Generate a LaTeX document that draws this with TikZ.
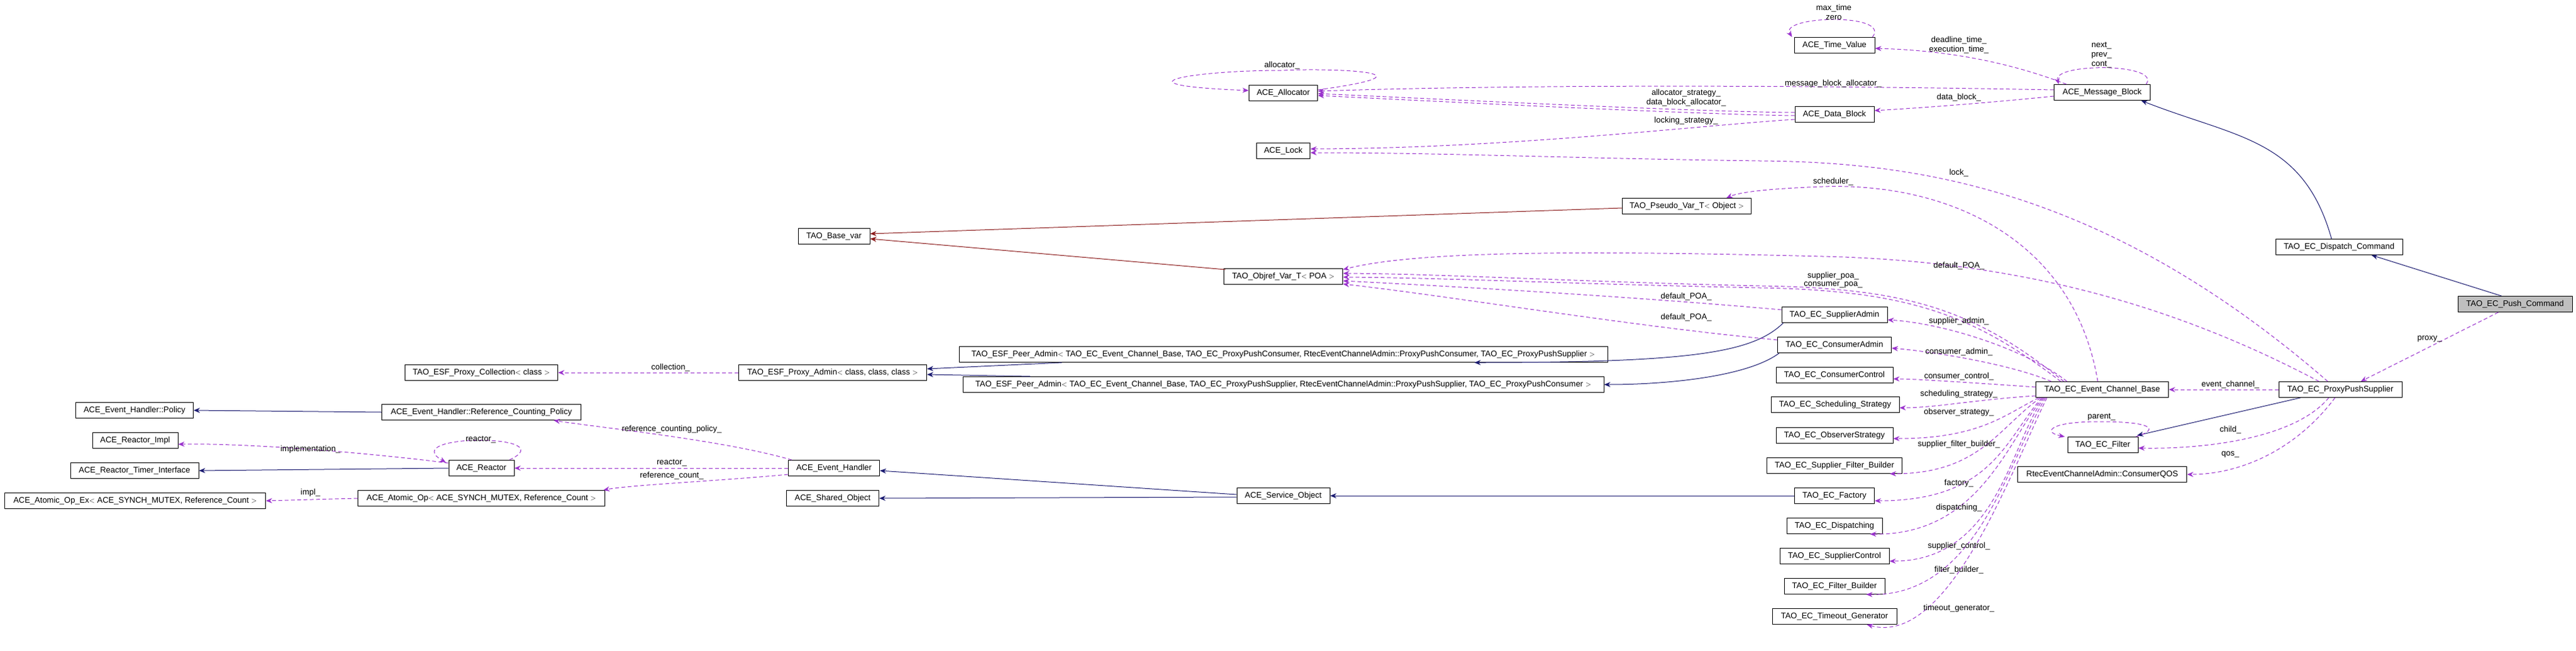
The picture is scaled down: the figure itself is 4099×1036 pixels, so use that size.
\documentclass[tikz,border=0pt]{standalone}
\usepackage{fontspec}
\setmainfont{Liberation Sans}
\usetikzlibrary{arrows.meta,calc}
\definecolor{inh}{HTML}{191970}
\definecolor{usg}{HTML}{9A32CD}
\definecolor{tpl}{HTML}{8B1A1A}
\begin{document}
\begin{tikzpicture}[x=1pt,y=-1pt,
  cls/.style={draw=black,line width=1pt,minimum height=25pt,inner sep=2pt,font=\fontsize{13}{15}\selectfont,fill=white},
  lbl/.style={font=\fontsize{13}{15}\selectfont,inner sep=1pt},
  tip/.style={-{Stealth[length=10pt,width=8pt]}},
  inhE/.style={tip,draw=inh,line width=1pt},
  tplE/.style={tip,draw=tpl,line width=1pt},
  usgE/.style={tip,draw=usg,line width=1pt,dash pattern=on 6pt off 4pt}]
\useasboundingbox (0,0) rectangle (4099,1036);
% nodes
\node[cls,fill=black!25,minimum width=182pt] (PushCmd) at (4002,484) {TAO\_EC\_Push\_Command};
\node[cls,minimum width=202pt] (DispCmd) at (3722,393) {TAO\_EC\_Dispatch\_Command};
\node[cls,minimum width=153pt] (MsgBlock) at (3345,147) {ACE\_Message\_Block};
\node[cls,minimum width=128pt] (TimeValue) at (2919,72) {ACE\_Time\_Value};
\node[cls,minimum width=126pt] (DataBlock) at (2919,182) {ACE\_Data\_Block};
\node[cls,minimum width=109pt] (Allocator) at (2042,148) {ACE\_Allocator};
\node[cls,minimum width=85pt] (Lock) at (2042,240) {ACE\_Lock};
\node[cls,minimum width=205pt] (PseudoVar) at (2684,328) {TAO\_Pseudo\_Var\_T$<$ Object $>$};
\node[cls,minimum width=114pt] (BaseVar) at (1327,376) {TAO\_Base\_var};
\node[cls,minimum width=189pt] (ObjrefVar) at (2042,440) {TAO\_Objref\_Var\_T$<$ POA $>$};
\node[cls,minimum width=168pt] (SupAdmin) at (2919,501) {TAO\_EC\_SupplierAdmin};
\node[cls,minimum width=181pt] (ConAdmin) at (2919,549) {TAO\_EC\_ConsumerAdmin};
\node[cls,minimum width=186pt] (ConControl) at (2919,597) {TAO\_EC\_ConsumerControl};
\node[cls,minimum width=204pt] (SchedStrat) at (2920,644) {TAO\_EC\_Scheduling\_Strategy};
\node[cls,minimum width=186pt] (ObsStrat) at (2919,693) {TAO\_EC\_ObserverStrategy};
\node[cls,minimum width=215pt] (SupFiltB) at (2919,741) {TAO\_EC\_Supplier\_Filter\_Builder};
\node[cls,minimum width=127pt] (Factory) at (2919,789) {TAO\_EC\_Factory};
\node[cls,minimum width=152pt] (Dispatching) at (2919,837) {TAO\_EC\_Dispatching};
\node[cls,minimum width=174pt] (SupControl) at (2919,885) {TAO\_EC\_SupplierControl};
\node[cls,minimum width=160pt] (FilterB) at (2919,933) {TAO\_EC\_Filter\_Builder};
\node[cls,minimum width=198pt] (Timeout) at (2919,981) {TAO\_EC\_Timeout\_Generator};
\node[cls,minimum width=211pt] (ECB) at (3345,620) {TAO\_EC\_Event\_Channel\_Base};
\node[cls,minimum width=196pt] (PPS) at (3724,620) {TAO\_EC\_ProxyPushSupplier};
\node[cls,minimum width=112pt] (Filter) at (3346,708) {TAO\_EC\_Filter};
\node[cls,minimum width=269pt] (QOS) at (3345,755) {RtecEventChannelAdmin::ConsumerQOS};
\node[cls,minimum width=1032pt] (PeerCons) at (2042,564) {TAO\_ESF\_Peer\_Admin$<$ TAO\_EC\_Event\_Channel\_Base, TAO\_EC\_ProxyPushConsumer, RtecEventChannelAdmin::ProxyPushConsumer, TAO\_EC\_ProxyPushSupplier $>$};
\node[cls,minimum width=1020pt] (PeerSup) at (2042,612) {TAO\_ESF\_Peer\_Admin$<$ TAO\_EC\_Event\_Channel\_Base, TAO\_EC\_ProxyPushSupplier, RtecEventChannelAdmin::ProxyPushSupplier, TAO\_EC\_ProxyPushConsumer $>$};
\node[cls,minimum width=299pt] (ProxyAdmin) at (1325,593) {TAO\_ESF\_Proxy\_Admin$<$ class, class, class $>$};
\node[cls,minimum width=243pt] (ProxyColl) at (766,593) {TAO\_ESF\_Proxy\_Collection$<$ class $>$};
\node[cls,minimum width=148pt] (ServiceObj) at (2042,789) {ACE\_Service\_Object};
\node[cls,minimum width=145pt] (EH) at (1327,745) {ACE\_Event\_Handler};
\node[cls,minimum width=147pt] (SharedObj) at (1325,793) {ACE\_Shared\_Object};
\node[cls,minimum width=317pt] (RefCountPol) at (766,656) {ACE\_Event\_Handler::Reference\_Counting\_Policy};
\node[cls,minimum width=187pt] (Policy) at (214,653) {ACE\_Event\_Handler::Policy};
\node[cls,minimum width=136pt] (ReactorImpl) at (215,701) {ACE\_Reactor\_Impl};
\node[cls,minimum width=204pt] (TimerIface) at (214,749) {ACE\_Reactor\_Timer\_Interface};
\node[cls,minimum width=104pt] (Reactor) at (766,745) {ACE\_Reactor};
\node[cls,minimum width=393pt] (AtomicOp) at (766,793) {ACE\_Atomic\_Op$<$ ACE\_SYNCH\_MUTEX, Reference\_Count $>$};
\node[cls,minimum width=415pt] (AtomicOpEx) at (215,797) {ACE\_Atomic\_Op\_Ex$<$ ACE\_SYNCH\_MUTEX, Reference\_Count $>$};
% inheritance
\draw[inhE] ($(PushCmd.north west)+(70,0)$) -- ($(DispCmd.south east)+(-50,0)$);
\draw[inhE] ($(DispCmd.north)+(-12,0)$) .. controls (3665,220) and (3560,220) .. ($(MsgBlock.south east)+(-15,0)$);
\draw[inhE] ($(SupAdmin.south west)+(3,0)$) .. controls (2790,560) and (2700,577) .. ($(PeerCons.south)+(304,0)$);
\draw[inhE] ($(ConAdmin.south west)+(3,0)$) .. controls (2780,600) and (2650,612) .. (PeerSup.east);
\draw[inhE] ($(PeerCons.south west)+(164,0)$) -- ($(ProxyAdmin.east)+(0,-6)$);
\draw[inhE] ($(PeerSup.north west)+(108,0)$) -- ($(ProxyAdmin.east)+(0,3)$);
\draw[inhE] (Factory.west) -- (ServiceObj.east);
\draw[inhE] ($(ServiceObj.west)+(0,-2)$) -- ($(EH.east)+(0,4)$);
\draw[inhE] ($(ServiceObj.west)+(0,2)$) -- (SharedObj.east);
\draw[inhE] ($(PPS.south west)+(35,0)$) -- ($(Filter.north east)+(-2,-2)$);
\draw[inhE] (RefCountPol.west) -- (Policy.east);
\draw[inhE] (Reactor.west) -- (TimerIface.east);
\draw[tplE] ($(PseudoVar.west)+(0,3)$) -- ($(BaseVar.east)+(0,-4)$);
\draw[tplE] ($(ObjrefVar.north west)+(3,2)$) -- ($(BaseVar.east)+(0,4)$);
% usage
\draw[usgE] ($(Allocator.east)+(0,-5)$) .. controls (2300,115) and (2120,108) .. (2040,112) .. controls (1900,112) and (1760,135) .. ($(Allocator.west)+(0,-4)$);
\draw[usgE] ($(MsgBlock.west)+(0,-4)$) .. controls (3000,138) and (2500,132) .. ($(Allocator.east)+(0,-3)$);
\draw[usgE] ($(DataBlock.west)+(0,-3)$) .. controls (2700,178) and (2300,158) .. ($(Allocator.east)+(0,1)$);
\draw[usgE] ($(DataBlock.west)+(0,2)$) .. controls (2700,182) and (2300,162) .. ($(Allocator.east)+(0,4)$);
\draw[usgE] ($(DataBlock.west)+(0,8)$) .. controls (2700,200) and (2400,236) .. ($(Lock.east)+(0,-3)$);
\draw[usgE] ($(PPS.north)+(-20,0)$) .. controls (3350,300) and (3050,258) .. (2800,256) .. controls (2500,252) and (2300,243) .. ($(Lock.east)+(0,3)$);
\draw[usgE] ($(ECB.north)+(-7,0)$) .. controls (3300,380) and (3100,290) .. (2900,297) .. controls (2820,300) and (2770,305) .. ($(PseudoVar.north east)+(-40,0)$);
\draw[usgE] ($(PPS.north)+(-34,0)$) .. controls (3450,480) and (3200,415) .. (2900,408) .. controls (2500,398) and (2250,400) .. ($(ObjrefVar.east)+(0,-11)$);
\draw[usgE] ($(ECB.north west)+(45,0)$) .. controls (3150,500) and (3050,458) .. (2800,455) .. controls (2500,448) and (2300,436) .. ($(ObjrefVar.east)+(0,-5)$);
\draw[usgE] ($(ECB.north west)+(40,0)$) .. controls (3145,505) and (3045,462) .. (2800,458) .. controls (2500,452) and (2300,442) .. ($(ObjrefVar.east)+(0,1)$);
\draw[usgE] ($(SupAdmin.west)+(0,-8)$) .. controls (2600,472) and (2300,455) .. ($(ObjrefVar.east)+(0,7)$);
\draw[usgE] ($(ConAdmin.west)+(0,-8)$) .. controls (2600,520) and (2300,470) .. ($(ObjrefVar.south east)+(0,-1)$);
\draw[usgE] ($(ECB.north west)+(50,0)$) .. controls (3230,560) and (3100,515) .. ($(SupAdmin.east)+(0,8)$);
\draw[usgE] ($(ECB.north west)+(25,0)$) .. controls (3200,580) and (3080,560) .. ($(ConAdmin.east)+(0,5)$);
\draw[usgE] ($(ECB.west)+(0,-4)$) .. controls (3150,610) and (3050,603) .. ($(ConControl.east)+(0,6)$);
\draw[usgE] ($(ECB.south west)+(0,-3)$) .. controls (3150,635) and (3080,649) .. ($(SchedStrat.east)+(0,5)$);
\draw[usgE] ($(ECB.south west)+(5,0)$) .. controls (3190,660) and (3150,698) .. ($(ObsStrat.east)+(0,5)$);
\draw[usgE] ($(ECB.south west)+(8,0)$) .. controls (3180,680) and (3150,754) .. ($(SupFiltB.south east)+(-20,0)$);
\draw[usgE] ($(ECB.south west)+(10,0)$) .. controls (3190,700) and (3170,797) .. ($(Factory.east)+(0,8)$);
\draw[usgE] ($(ECB.south west)+(12,0)$) .. controls (3195,700) and (3150,852) .. ($(Dispatching.south east)+(-20,0)$);
\draw[usgE] ($(ECB.south west)+(14,0)$) .. controls (3200,700) and (3180,893) .. ($(SupControl.east)+(0,8)$);
\draw[usgE] ($(ECB.south west)+(16,0)$) .. controls (3200,720) and (3150,950) .. ($(FilterB.south east)+(-30,0)$);
\draw[usgE] ($(ECB.south west)+(18,0)$) .. controls (3200,750) and (3100,1030) .. ($(Timeout.south east)+(-48,0)$);
\draw[usgE] (PPS.west) -- (ECB.east);
\draw[usgE] ($(PPS.south west)+(80,0)$) .. controls (3650,700) and (3500,715) .. ($(Filter.east)+(0,5)$);
\draw[usgE] ($(Filter.north east)+(-4,0)$) .. controls (3440,682) and (3420,671) .. (3340,671) .. controls (3260,671) and (3250,688) .. ($(Filter.north west)+(-4,0)$);
\draw[usgE] ($(PPS.south west)+(90,0)$) .. controls (3650,720) and (3560,755) .. (QOS.east);
\draw[usgE] ($(PushCmd.south west)+(65,0)$) -- ($(PPS.north east)+(-66,0)$);
\draw[usgE] ($(MsgBlock.north east)+(-7,0)$) .. controls (3440,100) and (3265,100) .. ($(MsgBlock.north west)+(8,0)$);
\draw[usgE] ($(TimeValue.north east)+(-4,0)$) .. controls (3010,20) and (2830,25) .. ($(TimeValue.north west)+(-3,0)$);
\draw[usgE] ($(MsgBlock.north west)+(20,0)$) .. controls (3200,100) and (3100,80) .. ($(TimeValue.east)+(0,5)$);
\draw[usgE] ($(MsgBlock.west)+(0,6)$) .. controls (3150,165) and (3050,172) .. ($(DataBlock.east)+(0,-6)$);
\draw[usgE] (ProxyAdmin.west) -- (ProxyColl.east);
\draw[usgE] ($(EH.north west)+(6,0)$) .. controls (1150,700) and (950,680) .. ($(RefCountPol.south east)+(-44,0)$);
\draw[usgE] (EH.west) -- (Reactor.east);
\draw[usgE] ($(EH.south west)+(0,-3)$) .. controls (1150,765) and (1000,772) .. ($(AtomicOp.north east)+(-3,0)$);
\draw[usgE] ($(Reactor.west)+(0,-8)$) .. controls (600,722) and (400,705) .. ($(ReactorImpl.east)+(0,6)$);
\draw[usgE] ($(Reactor.north east)+(-8,0)$) .. controls (900,690) and (630,690) .. ($(Reactor.north west)+(-4,4)$);
\draw[usgE] (AtomicOp.west) -- (AtomicOpEx.east);
% labels
\node[lbl] (l1) at (2918,13) {max\_time};
\node[lbl] (l2) at (2918,28) {zero};
\node[lbl] (l3) at (3117,64) {deadline\_time\_};
\node[lbl] (l4) at (3117,79) {execution\_time\_};
\node[lbl] (l5) at (3344,73) {next\_};
\node[lbl] (l6) at (3344,88) {prev\_};
\node[lbl] (l7) at (3344,103) {cont\_};
\node[lbl] (l8) at (2917,133) {message\_block\_allocator\_};
\node[lbl] (l9) at (3117,155) {data\_block\_};
\node[lbl] (l10) at (2040,104) {allocator\_};
\node[lbl] (l11) at (2683,148) {allocator\_strategy\_};
\node[lbl] (l12) at (2683,163) {data\_block\_allocator\_};
\node[lbl] (l13) at (2683,192) {locking\_strategy\_};
\node[lbl] (l14) at (3117,275) {lock\_};
\node[lbl] (l15) at (2917,289) {scheduler\_};
\node[lbl] (l16) at (3117,423) {default\_POA\_};
\node[lbl] (l17) at (2917,439) {supplier\_poa\_};
\node[lbl] (l18) at (2917,453) {consumer\_poa\_};
\node[lbl] (l19) at (2683,472) {default\_POA\_};
\node[lbl] (l20) at (2683,505) {default\_POA\_};
\node[lbl] (l21) at (3866,539) {proxy\_};
\node[lbl] (l22) at (3117,511) {supplier\_admin\_};
\node[lbl] (l23) at (3117,560) {consumer\_admin\_};
\node[lbl] (l24) at (3117,599) {consumer\_control\_};
\node[lbl] (l25) at (3117,627) {scheduling\_strategy\_};
\node[lbl] (l26) at (3117,656) {observer\_strategy\_};
\node[lbl] (l27) at (3117,707) {supplier\_filter\_builder\_};
\node[lbl] (l28) at (3117,769) {factory\_};
\node[lbl] (l29) at (3117,808) {dispatching\_};
\node[lbl] (l30) at (3117,869) {supplier\_control\_};
\node[lbl] (l31) at (3117,907) {filter\_builder\_};
\node[lbl] (l32) at (3117,968) {timeout\_generator\_};
\node[lbl] (l33) at (3549,612) {event\_channel\_};
\node[lbl] (l34) at (3344,664) {parent\_};
\node[lbl] (l35) at (3549,684) {child\_};
\node[lbl] (l36) at (3549,723) {qos\_};
\node[lbl] (l37) at (1067,585) {collection\_};
\node[lbl] (l38) at (1069,683) {reference\_counting\_policy\_};
\node[lbl] (l39) at (765,700) {reactor\_};
\node[lbl] (l40) at (494,715) {implementation\_};
\node[lbl] (l41) at (1069,737) {reactor\_};
\node[lbl] (l42) at (1069,757) {reference\_count\_};
\node[lbl] (l43) at (494,784) {impl\_};
\end{tikzpicture}
\end{document}
